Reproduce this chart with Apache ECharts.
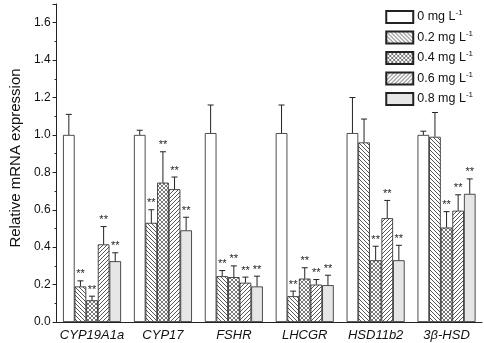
<!DOCTYPE html>
<html>
<head>
<meta charset="utf-8" />
<title>Relative mRNA expression</title>
<style>
  html, body { margin: 0; padding: 0; background: #fff; }
  #main { width: 484px; height: 343px; }
</style>
</head>
<body>
<div id="main"></div>
<script src="https://cdn.jsdelivr.net/npm/echarts@6/dist/echarts.min.js"></script>
<script>
// genes on the x axis
const genes = ['CYP19A1a', 'CYP17', 'FSHR', 'LHCGR', 'HSD11b2', '3β-HSD'];
const doses = ['0', '0.2', '0.4', '0.6', '0.8'];
const yTicks = [0, 0.2, 0.4, 0.6, 0.8, 1.0, 1.2, 1.4, 1.6];

// means per dose
const mean0 = [1.00, 1.00, 1.01, 1.01, 1.01, 1.00];
const mean02 = [0.19, 0.53, 0.245, 0.138, 0.96, 0.99];
const mean04 = [0.116, 0.745, 0.24, 0.232, 0.33, 0.505];
const mean06 = [0.415, 0.71, 0.21, 0.20, 0.555, 0.595];
const mean08 = [0.325, 0.49, 0.19, 0.197, 0.33, 0.685];

// error bars (upper only)
const sd0 = [0.11, 0.025, 0.15, 0.15, 0.19, 0.02];
const sd02 = [0.03, 0.07, 0.03, 0.027, 0.125, 0.13];
const sd04 = [0.022, 0.165, 0.06, 0.058, 0.075, 0.085];
const sd06 = [0.095, 0.065, 0.03, 0.027, 0.095, 0.085];
const sd08 = [0.045, 0.07, 0.055, 0.053, 0.08, 0.08];

// significance marks
const sig0 = ['', '', '', '', '', ''];
const sig02 = ['**', '**', '**', '**', '', ''];
const sig04 = ['**', '**', '**', '**', '**', '**'];
const sig06 = ['**', '**', '**', '**', '**', '**'];
const sig08 = ['**', '**', '**', '**', '**', '**'];

const means = [mean0, mean02, mean04, mean06, mean08];
const sds = [sd0, sd02, sd04, sd06, sd08];
const sigs = [sig0, sig02, sig04, sig06, sig08];

function pattern(size, kind, stroke) {
  const c = document.createElement('canvas');
  c.width = c.height = size;
  const ctx = c.getContext('2d');
  ctx.fillStyle = '#fff';
  ctx.fillRect(0, 0, size, size);
  ctx.strokeStyle = stroke;
  ctx.lineWidth = 0.9;
  ctx.beginPath();
  if (kind === 'back' || kind === 'cross') {
    ctx.moveTo(-1, -1); ctx.lineTo(size + 1, size + 1);
    ctx.moveTo(-1, size - 1); ctx.lineTo(1, size + 1);
    ctx.moveTo(size - 1, -1); ctx.lineTo(size + 1, 1);
  }
  if (kind === 'fwd' || kind === 'cross') {
    ctx.moveTo(-1, size + 1); ctx.lineTo(size + 1, -1);
    ctx.moveTo(-1, 1); ctx.lineTo(1, -1);
    ctx.moveTo(size - 1, size + 1); ctx.lineTo(size + 1, size - 1);
  }
  ctx.stroke();
  return { image: c, repeat: 'repeat' };
}

const fills = ['#ffffff', pattern(4, 'back', '#444'), pattern(4, 'cross', '#6a6a6a'), pattern(4, 'fwd', '#444'), '#e6e6e6'];

const chart = echarts.init(document.getElementById('main'));

const barW = 11.6;
const series = [];
doses.forEach((d, i) => {
  series.push({
    name: d + ' mg L-1',
    type: 'bar',
    data: means[i],
    barWidth: barW,
    barGap: '0%',
    itemStyle: { color: fills[i], borderColor: '#222', borderWidth: 0.8 },
    z: 2
  });
});
doses.forEach((d, i) => {
  series.push({
    type: 'custom',
    silent: true,
    z: 3,
    data: genes.map((g, k) => [k, means[i][k], means[i][k] + sds[i][k]]),
    renderItem: function (params, api) {
      const base = api.coord([api.value(0), api.value(1)]);
      const top = api.coord([api.value(0), api.value(2)]);
      const x = base[0] + (i - 2) * barW;
      const sig = sigs[i][params.dataIndex];
      const kids = [
        { type: 'line', shape: { x1: x, y1: base[1], x2: x, y2: top[1] }, style: { stroke: '#222', lineWidth: 1 } },
        { type: 'line', shape: { x1: x - 3, y1: top[1], x2: x + 3, y2: top[1] }, style: { stroke: '#222', lineWidth: 1 } }
      ];
      if (sig) {
        kids.push({ type: 'text', x: x, y: top[1] - 1,
          style: { text: sig, fill: '#222', font: '11px Liberation Sans', align: 'center', verticalAlign: 'bottom' } });
      }
      return { type: 'group', children: kids };
    }
  });
});

chart.setOption({
  animation: false,
  backgroundColor: '#fff',
  grid: { left: 52, right: 2, top: 4, bottom: 21, containLabel: false },
  legend: {
    orient: 'vertical',
    right: 6,
    top: 4,
    itemWidth: 27,
    itemHeight: 12,
    itemGap: 5.5,
    icon: 'rect',
    data: series.filter(s => s.type === 'bar').map(s => s.name),
    formatter: function (name) {
      return '{a|' + name.replace(' L-1', ' L') + '}{s|-1}';
    },
    textStyle: {
      padding: [0, 0, 0, -1],
      rich: {
        a: { fontFamily: 'Liberation Sans', fontSize: 12.5, color: '#111' },
        s: { fontFamily: 'Liberation Sans', fontSize: 8, color: '#111', padding: [0, 0, 8, 0] }
      }
    }
  },
  xAxis: {
    type: 'category',
    data: genes,
    axisLine: { lineStyle: { color: '#222', width: 1 } },
    axisTick: { show: false },
    axisLabel: { interval: 0, fontFamily: 'Liberation Sans', fontStyle: 'italic', fontSize: 13, color: '#111', margin: 7 }
  },
  yAxis: {
    type: 'value',
    min: 0,
    max: 1.7,
    interval: 0.2,
    name: 'Relative mRNA expression',
    nameLocation: 'middle',
    nameGap: 32,
    nameTextStyle: { fontFamily: 'Liberation Sans', fontSize: 15, color: '#111', padding: [0, 0, 0, 10] },
    splitLine: { show: false },
    axisLine: { show: true, lineStyle: { color: '#222', width: 1 } },
    axisTick: { show: true, length: 4, lineStyle: { color: '#222' } },
    minorTick: { show: true, splitNumber: 2, length: 2, lineStyle: { color: '#222' } },
    axisLabel: {
      fontFamily: 'Liberation Sans', fontSize: 12, color: '#111', margin: 6,
      showMaxLabel: false,
      formatter: v => (yTicks.some(t => Math.abs(t - v) < 1e-6) ? v.toFixed(1) : '')
    }
  },
  series: series
});
</script>
</body>
</html>
